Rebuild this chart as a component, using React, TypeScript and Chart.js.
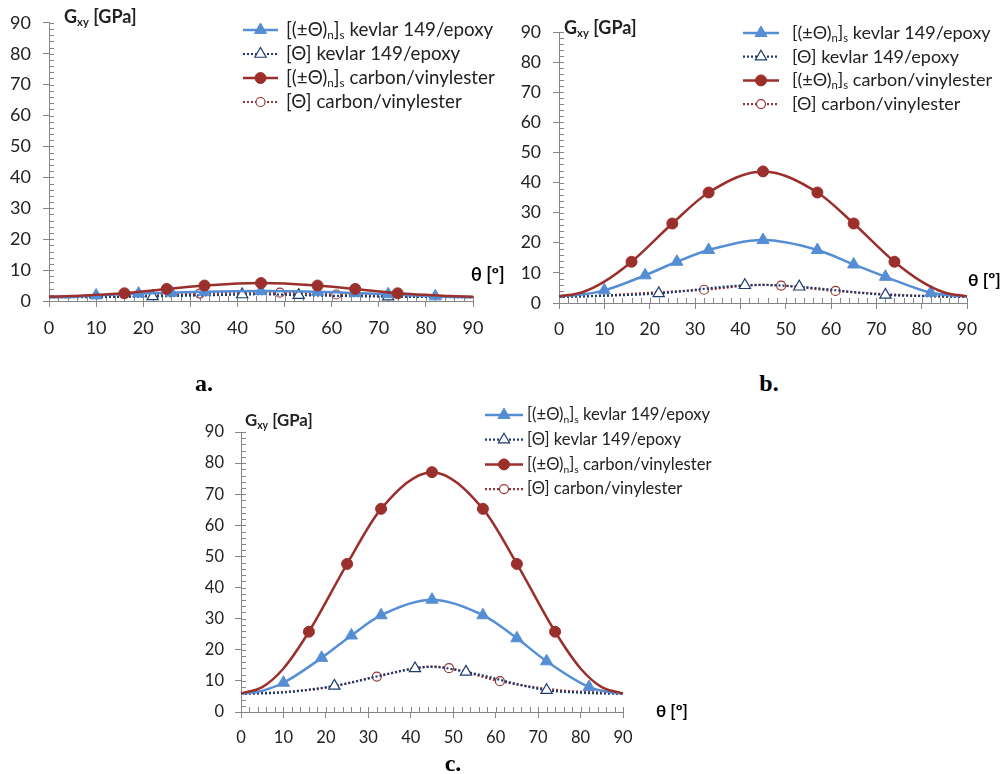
import React, { useEffect, useRef } from "react";
import { Chart, registerables } from "chart.js";
Chart.register(...registerables);

const FONT = "Lato, 'Open Sans', sans-serif";

// ---- angle grids (degrees) and marker angles ----
const kevlarPlyAngles = [0, 5, 10, 19, 26, 33, 45, 57, 65, 72, 82, 86, 90];
const kevlarPlyMarkers = [10, 19, 26, 33, 45, 57, 65, 72, 82];
const carbonPlyAngles = [0, 5, 10, 16, 25, 33, 45, 57, 65, 74, 80, 85, 90];
const carbonPlyMarkers = [16, 25, 33, 45, 57, 65, 74];
const kevlarLamAngles = [0, 10, 22, 41, 45, 53, 72, 80, 90];
const kevlarLamMarkers = [22, 41, 53, 72];
const carbonLamAngles = [0, 10, 20, 32, 45, 49, 61, 75, 90];
const carbonLamMarkers = [32, 49, 61];

// ---- chart a: G_xy [GPa] ----
const aKevlarPly = [1.2, 1.3, 1.8, 2.4, 2.7, 3.0, 3.2, 3.0, 2.6, 2.2, 1.5, 1.3, 1.2];
const aCarbonPly = [1.4, 1.6, 2.0, 2.5, 3.9, 5.0, 5.8, 5.0, 3.9, 2.5, 2.0, 1.6, 1.4];
const aKevlarLam = [1.2, 1.3, 1.5, 2.1, 2.2, 1.9, 1.4, 1.3, 1.2];
const aCarbonLam = [1.3, 1.4, 1.7, 2.4, 2.8, 2.7, 2.1, 1.6, 1.3];
// ---- chart b ----
const bKevlarPly = [2.2, 2.8, 4.2, 9.2, 13.7, 17.6, 20.9, 17.6, 12.8, 8.7, 3.4, 2.6, 2.2];
const bCarbonPly = [2.2, 3.5, 7.1, 13.7, 26.4, 36.7, 43.7, 36.7, 26.4, 13.7, 7.1, 3.5, 2.2];
const bKevlarLam = [2.0, 2.4, 3.2, 5.9, 6.0, 5.4, 2.7, 2.3, 2.0];
const bCarbonLam = [2.0, 2.5, 3.4, 4.4, 6.0, 5.8, 4.0, 2.7, 2.0];
// ---- chart c ----
const cKevlarPly = [5.9, 6.8, 9.4, 17.4, 24.6, 31.1, 36.1, 31.1, 23.7, 16.3, 8.0, 6.6, 5.9];
const cCarbonPly = [6.0, 8.0, 14.0, 25.8, 47.6, 65.3, 77.1, 65.3, 47.6, 25.8, 14.0, 8.0, 6.0];
const cKevlarLam = [5.8, 6.3, 8.4, 14.0, 14.5, 12.9, 7.0, 6.2, 5.8];
const cCarbonLam = [6.0, 6.4, 7.8, 11.4, 14.6, 14.1, 9.9, 7.0, 6.0];

const axisMin = 0;
const axisMax = 90;
const majorStep = 10;
const minorStep = 2;

const seriesLabels = [
  "[(±Θ){n}]{s} kevlar 149/epoxy",
  "[Θ] kevlar 149/epoxy",
  "[(±Θ){n}]{s} carbon/vinylester",
  "[Θ] carbon/vinylester",
];
const yTitle = "G{xy} [GPa]";
const xTitle = "θ [º]";
const panelLabels = ["a.", "b.", "c."];

const BLUE = "#558ED5";
const NAVY = "#1F3B6E";
const RED = "#9B2F2C";
const BROWN = "#953735";
const AXIS = "#868686";
const TEXT = "#222222";

type Box = { left: number; top: number; width: number; height: number };
type Area = { left: number; top: number; right: number; bottom: number };
type PanelCfg = {
  box: Box;
  area: Area;
  tickSize: number;
  xPad: number;
  yPad: number;
  legend: { x: number; y: number; gap: number; len: number; textX: number; size: number };
  title: { x: number; y: number; size: number };
  xt: { x: number; y: number; size: number };
  values: number[][];
};

const panels: PanelCfg[] = [
  {
    box: { left: 0, top: 0, width: 512, height: 350 },
    area: { left: 49, top: 20, right: 473, bottom: 301 },
    tickSize: 18, xPad: 10, yPad: 12,
    legend: { x: 243, y: 30, gap: 24, len: 35, textX: 286, size: 18.8 },
    title: { x: 64, y: 17, size: 18 },
    xt: { x: 471, y: 275, size: 18 },
    values: [aKevlarPly, aKevlarLam, aCarbonPly, aCarbonLam],
  },
  {
    box: { left: 505, top: 0, width: 502, height: 350 },
    area: { left: 559, top: 32, right: 967, bottom: 303 },
    tickSize: 17.5, xPad: 10, yPad: 12,
    legend: { x: 743, y: 33, gap: 23.7, len: 36, textX: 792, size: 18 },
    title: { x: 564, y: 28, size: 18 },
    xt: { x: 968, y: 280, size: 17.5 },
    values: [bKevlarPly, bKevlarLam, bCarbonPly, bCarbonLam],
  },
  {
    box: { left: 190, top: 395, width: 530, height: 360 },
    area: { left: 241, top: 432, right: 623, bottom: 712 },
    tickSize: 16.5, xPad: 10, yPad: 11,
    legend: { x: 485, y: 415, gap: 24.7, len: 38, textX: 527, size: 16.6 },
    title: { x: 245, y: 421, size: 16.8 },
    xt: { x: 656, y: 712, size: 17 },
    values: [cKevlarPly, cKevlarLam, cCarbonPly, cCarbonLam],
  },
];

const labelPos = [
  { x: 204, y: 383 },
  { x: 769, y: 383 },
  { x: 453, y: 763 },
];

function parseRich(s: string) {
  const parts = s.split(/(\{[^}]*\})/).filter((p) => p.length > 0);
  return parts.map((p) =>
    p.startsWith("{") ? { t: p.slice(1, -1), sub: true } : { t: p, sub: false }
  );
}

function drawRich(ctx: CanvasRenderingContext2D, s: string, x: number, y: number, size: number, weight: string, color: string) {
  let cx = x;
  ctx.fillStyle = color;
  ctx.textBaseline = "middle";
  ctx.textAlign = "left";
  for (const seg of parseRich(s)) {
    const fs = seg.sub ? size * 0.62 : size;
    ctx.font = `${weight} ${fs}px ${FONT}`;
    ctx.fillText(seg.t, cx, seg.sub ? y + size * 0.3 : y);
    cx += ctx.measureText(seg.t).width;
  }
}

function drawMarker(ctx: CanvasRenderingContext2D, style: string, x: number, y: number, r: number, fill: string, stroke: string, lw: number) {
  ctx.beginPath();
  if (style === "triangle") {
    ctx.moveTo(x, y - r);
    ctx.lineTo(x + r * 0.866, y + r * 0.5);
    ctx.lineTo(x - r * 0.866, y + r * 0.5);
    ctx.closePath();
  } else {
    ctx.arc(x, y, r, 0, Math.PI * 2);
  }
  ctx.fillStyle = fill;
  ctx.fill();
  ctx.lineWidth = lw;
  ctx.strokeStyle = stroke;
  ctx.setLineDash([]);
  ctx.stroke();
}

const decorPlugin = {
  id: "decor",
  beforeDatasetsDraw(chart: any) {
    const ctx = chart.ctx as CanvasRenderingContext2D;
    const area = chart.chartArea;
    const xs = chart.scales.x;
    const ys = chart.scales.y;
    ctx.save();
    ctx.strokeStyle = AXIS;
    ctx.lineWidth = 1;
    ctx.beginPath();
    for (let v = axisMin; v <= axisMax; v += minorStep) {
      const py = Math.round(ys.getPixelForValue(v)) + 0.5;
      ctx.moveTo(area.left, py);
      ctx.lineTo(area.left + 5, py);
      const px = Math.round(xs.getPixelForValue(v)) + 0.5;
      ctx.moveTo(px, area.bottom);
      ctx.lineTo(px, area.bottom - 5);
    }
    ctx.stroke();
    ctx.restore();
  },
  afterDraw(chart: any, _args: any, opts: any) {
    const cfg: PanelCfg = opts.cfg;
    const ctx = chart.ctx as CanvasRenderingContext2D;
    const ox = cfg.box.left;
    const oy = cfg.box.top;
    ctx.save();
    // axis titles
    drawRich(ctx, yTitle, cfg.title.x - ox, cfg.title.y - oy, cfg.title.size, "bold", TEXT);
    drawRich(ctx, xTitle, cfg.xt.x - ox, cfg.xt.y - oy, cfg.xt.size, "bold", "#000");
    // legend
    const lg = cfg.legend;
    chart.data.datasets.forEach((ds: any, i: number) => {
      const y = lg.y - oy + i * lg.gap;
      const x0 = lg.x - ox;
      ctx.beginPath();
      ctx.strokeStyle = ds.borderColor;
      ctx.lineWidth = ds.borderWidth;
      ctx.setLineDash(ds.borderDash || []);
      ctx.moveTo(x0, y);
      ctx.lineTo(x0 + lg.len, y);
      ctx.stroke();
      drawMarker(ctx, ds.pointStyle, x0 + lg.len / 2, y, ds.markerR, ds.pointBackgroundColor, ds.pointBorderColor, ds.pointBorderWidth);
      drawRich(ctx, seriesLabels[i], lg.textX - ox, y, lg.size, "normal", TEXT);
    });
    ctx.restore();
  },
};

function pts(angles: number[], vals: number[]) {
  return angles.map((a, i) => ({ x: a, y: vals[i] }));
}
function radii(angles: number[], markers: number[], r: number) {
  return angles.map((a) => (markers.includes(a) ? r : 0));
}

function buildConfig(cfg: PanelCfg): any {
  const [kp, kl, cp, cl] = cfg.values;
  const ticksFont = { family: FONT, size: cfg.tickSize, lineHeight: 1.2 };
  const datasets = [
    {
      label: seriesLabels[0], data: pts(kevlarPlyAngles, kp),
      borderColor: BLUE, borderWidth: 2.5, pointStyle: "triangle",
      pointRadius: radii(kevlarPlyAngles, kevlarPlyMarkers, 7), markerR: 7,
      pointBackgroundColor: BLUE, pointBorderColor: BLUE, pointBorderWidth: 1, order: 1,
    },
    {
      label: seriesLabels[1], data: pts(kevlarLamAngles, kl),
      borderColor: NAVY, borderWidth: 2.2, borderDash: [2, 2], pointStyle: "triangle",
      pointRadius: radii(kevlarLamAngles, kevlarLamMarkers, 6.5), markerR: 6.5,
      pointBackgroundColor: "#ffffff", pointBorderColor: NAVY, pointBorderWidth: 1.2, order: 2,
    },
    {
      label: seriesLabels[2], data: pts(carbonPlyAngles, cp),
      borderColor: RED, borderWidth: 2.5, pointStyle: "circle",
      pointRadius: radii(carbonPlyAngles, carbonPlyMarkers, 5.5), markerR: 5.5,
      pointBackgroundColor: RED, pointBorderColor: RED, pointBorderWidth: 1, order: 0,
    },
    {
      label: seriesLabels[3], data: pts(carbonLamAngles, cl),
      borderColor: BROWN, borderWidth: 2.2, borderDash: [2, 2], pointStyle: "circle",
      pointRadius: radii(carbonLamAngles, carbonLamMarkers, 4.5), markerR: 4.5,
      pointBackgroundColor: "#ffffff", pointBorderColor: BROWN, pointBorderWidth: 1.2, order: 3,
    },
  ].map((d) => ({ ...d, cubicInterpolationMode: "monotone", fill: false, clip: false, pointHoverRadius: 0 }));

  const b = cfg.box;
  const a = cfg.area;
  return {
    type: "line",
    data: { datasets },
    options: {
      responsive: false,
      animation: false,
      events: [],
      layout: {
        padding: { left: 0, top: a.top - b.top, right: b.left + b.width - a.right, bottom: 0 },
      },
      scales: {
        x: {
          type: "linear", min: axisMin, max: axisMax,
          border: { display: true, color: AXIS, width: 1 },
          grid: { drawOnChartArea: false, drawTicks: true, tickLength: 6, color: AXIS },
          ticks: { stepSize: majorStep, color: TEXT, font: ticksFont, padding: cfg.xPad, maxRotation: 0 },
          afterFit: (s: any) => { s.height = b.top + b.height - a.bottom; },
        },
        y: {
          type: "linear", min: axisMin, max: axisMax,
          border: { display: true, color: AXIS, width: 1 },
          grid: { drawOnChartArea: false, drawTicks: true, tickLength: 6, color: AXIS },
          ticks: { stepSize: majorStep, color: TEXT, font: ticksFont, padding: cfg.yPad },
          afterFit: (s: any) => { s.width = a.left - b.left; },
        },
      },
      plugins: {
        legend: { display: false },
        tooltip: { enabled: false },
        decor: { cfg },
      },
    },
    plugins: [decorPlugin],
  };
}

function Panel({ cfg }: { cfg: PanelCfg }) {
  const ref = useRef<HTMLCanvasElement>(null);
  useEffect(() => {
    const chart = new Chart(ref.current as HTMLCanvasElement, buildConfig(cfg));
    return () => chart.destroy();
  }, [cfg]);
  const b = cfg.box;
  return (
    <div style={{ position: "absolute", left: b.left, top: b.top, width: b.width, height: b.height }}>
      <canvas ref={ref} width={b.width} height={b.height} style={{ width: b.width, height: b.height, display: "block" }} />
    </div>
  );
}

export default function App() {
  return (
    <div style={{ position: "absolute", left: 0, top: 0, width: 1007, height: 774, background: "#fff", overflow: "hidden" }}>
      {panels.map((p, i) => (
        <Panel key={i} cfg={p} />
      ))}
      {panelLabels.map((t, i) => (
        <div
          key={t}
          style={{
            position: "absolute", left: labelPos[i].x, top: labelPos[i].y,
            transform: "translate(-50%, -50%)", fontFamily: "'Liberation Serif', 'Times New Roman', serif",
            fontWeight: "bold", fontSize: 24, lineHeight: 1, color: "#000",
          }}
        >
          {t}
        </div>
      ))}
    </div>
  );
}
